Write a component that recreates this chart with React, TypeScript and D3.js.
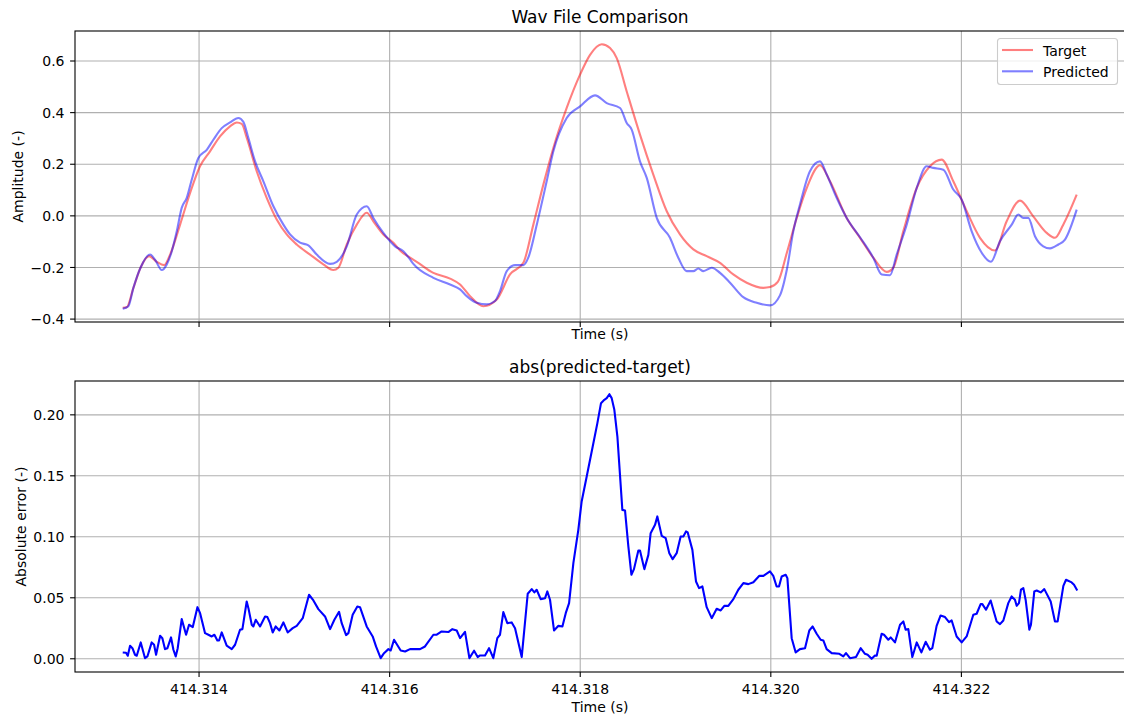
import React from "react";
import * as d3 from "d3";

// Time axis values are stored as microseconds after this origin (seconds).
const TIME_ORIGIN_S = 414.313;

// [time (µs after origin), amplitude]
const targetSamples: [number, number][] = [
  [199, -0.356], [241, -0.354], [311, -0.279], [388, -0.199], [475, -0.156], [556, -0.178],
  [633, -0.191], [696, -0.15], [801, -0.034], [906, 0.089], [1010, 0.192], [1115, 0.25],
  [1220, 0.308], [1325, 0.347], [1396, 0.362], [1448, 0.356], [1501, 0.302], [1605, 0.173],
  [1710, 0.07], [1815, -0.014], [1920, -0.072], [2025, -0.111], [2165, -0.15], [2304, -0.188],
  [2409, -0.21], [2462, -0.201], [2550, -0.111], [2655, -0.034], [2760, 0.012], [2829, -0.021],
  [2934, -0.072], [3039, -0.104], [3109, -0.134], [3214, -0.162], [3284, -0.178], [3459, -0.221],
  [3634, -0.243], [3739, -0.266], [3844, -0.311], [3983, -0.35], [4124, -0.324], [4263, -0.227],
  [4403, -0.182], [4508, -0.034], [4613, 0.121], [4718, 0.263], [4858, 0.418], [4998, 0.547],
  [5103, 0.624], [5226, 0.665], [5313, 0.65], [5383, 0.611], [5488, 0.482], [5627, 0.315],
  [5767, 0.16], [5908, 0.018], [6047, -0.072], [6187, -0.13], [6327, -0.156], [6467, -0.182],
  [6606, -0.227], [6747, -0.259], [6921, -0.279], [6992, -0.276], [7075, -0.255], [7167, -0.145],
  [7272, -0.008], [7377, 0.108], [7516, 0.196], [7621, 0.134], [7796, -0.008], [7936, -0.085],
  [8075, -0.162], [8216, -0.217], [8285, -0.201], [8390, -0.06], [8531, 0.108], [8670, 0.192],
  [8793, 0.218], [8915, 0.134], [9056, 0.018], [9195, -0.085], [9352, -0.134], [9475, -0.021],
  [9615, 0.059], [9754, -0.002], [9895, -0.066], [9982, -0.085], [10069, -0.034], [10210, 0.082],
];

const predictedSamples: [number, number][] = [
  [199, -0.36], [258, -0.35], [311, -0.279], [388, -0.199], [486, -0.15], [538, -0.17],
  [609, -0.21], [661, -0.188], [714, -0.137], [766, -0.06], [818, 0.031], [871, 0.07],
  [923, 0.14], [993, 0.224], [1081, 0.256], [1150, 0.295], [1238, 0.34], [1325, 0.362],
  [1412, 0.379], [1465, 0.364], [1517, 0.302], [1588, 0.211], [1675, 0.134], [1780, 0.037],
  [1885, -0.034], [1955, -0.072], [2060, -0.104], [2147, -0.114], [2235, -0.15], [2375, -0.186],
  [2445, -0.178], [2550, -0.118], [2655, 0.005], [2760, 0.037], [2829, -0.008], [2934, -0.066],
  [3057, -0.118], [3144, -0.137], [3214, -0.169], [3249, -0.186], [3459, -0.24], [3634, -0.266],
  [3739, -0.285], [3809, -0.311], [3914, -0.337], [4019, -0.343], [4106, -0.33], [4158, -0.292],
  [4229, -0.214], [4316, -0.191], [4403, -0.191], [4455, -0.162], [4544, -0.034], [4648, 0.134],
  [4718, 0.25], [4858, 0.379], [4998, 0.424], [5155, 0.467], [5278, 0.437], [5418, 0.418],
  [5488, 0.36], [5540, 0.334], [5627, 0.211], [5698, 0.147], [5803, -0.008], [5942, -0.085],
  [6029, -0.162], [6117, -0.214], [6187, -0.214], [6239, -0.204], [6292, -0.214], [6380, -0.201],
  [6467, -0.221], [6572, -0.259], [6711, -0.315], [6852, -0.337], [6992, -0.347], [7096, -0.308],
  [7170, -0.205], [7236, -0.06], [7306, 0.044], [7411, 0.173], [7516, 0.211], [7587, 0.16],
  [7691, 0.07], [7796, -0.008], [7936, -0.083], [8075, -0.162], [8164, -0.227], [8251, -0.23],
  [8321, -0.15], [8426, -0.034], [8531, 0.108], [8636, 0.192], [8705, 0.186], [8810, 0.179],
  [8915, 0.102], [9003, 0.063], [9108, -0.06], [9213, -0.143], [9310, -0.178], [9405, -0.098],
  [9528, -0.034], [9597, 0.005], [9649, -0.008], [9702, -0.008], [9772, -0.079], [9859, -0.118],
  [9930, -0.126], [10017, -0.111], [10087, -0.092], [10210, 0.024],
];

// [time (µs after origin), |predicted - target|]
const errorSamples: [number, number][] = [
  [199, 0.0052], [234, 0.005], [252, 0.0025], [276, 0.0107], [301, 0.0087], [328, 0.0033],
  [346, 0.0025], [388, 0.0134], [433, 0.0005], [458, 0.0019], [503, 0.0134], [528, 0.0115],
  [549, 0.0033], [591, 0.0189], [615, 0.0169], [643, 0.0079], [668, 0.0087], [706, 0.0175],
  [731, 0.0074], [755, 0.0019], [776, 0.0087], [818, 0.0325], [864, 0.0197], [895, 0.0279],
  [934, 0.026], [983, 0.0423], [1011, 0.0374], [1063, 0.021], [1098, 0.0197], [1133, 0.0183],
  [1161, 0.0197], [1192, 0.015], [1210, 0.015], [1238, 0.0216], [1290, 0.0107], [1343, 0.0079],
  [1378, 0.0115], [1430, 0.0238], [1455, 0.0243], [1500, 0.047], [1518, 0.0415], [1553, 0.0279],
  [1570, 0.0265], [1595, 0.032], [1640, 0.0265], [1693, 0.0347], [1717, 0.0342], [1745, 0.0292],
  [1773, 0.0216], [1804, 0.0265], [1843, 0.0232], [1885, 0.0298], [1930, 0.0216], [1983, 0.0251],
  [2025, 0.027], [2088, 0.0333], [2154, 0.0525], [2200, 0.0478], [2252, 0.0407], [2322, 0.0347],
  [2375, 0.0243], [2420, 0.032], [2469, 0.0385], [2497, 0.0292], [2543, 0.0194], [2567, 0.021],
  [2612, 0.0361], [2661, 0.0429], [2689, 0.0423], [2759, 0.0265], [2822, 0.0183], [2857, 0.0101],
  [2906, 0.0005], [2941, 0.0046], [2987, 0.0079], [3011, 0.0068], [3046, 0.0156], [3116, 0.0068],
  [3162, 0.006], [3214, 0.0079], [3319, 0.0079], [3371, 0.0101], [3459, 0.0197], [3494, 0.0197],
  [3546, 0.0224], [3616, 0.0219], [3658, 0.0243], [3704, 0.0232], [3739, 0.0169], [3791, 0.0221],
  [3837, 0.0005], [3886, 0.0066], [3924, 0.0014], [3949, 0.0027], [4001, 0.0027], [4043, 0.0087],
  [4088, 0.0005], [4130, 0.0169], [4158, 0.0197], [4193, 0.0383], [4235, 0.0292], [4281, 0.0298],
  [4316, 0.0251], [4386, 0.0014], [4449, 0.0533], [4491, 0.0571], [4519, 0.0544], [4543, 0.0566],
  [4585, 0.0489], [4631, 0.0497], [4655, 0.0552], [4683, 0.0484], [4725, 0.0232], [4771, 0.027],
  [4813, 0.0265], [4848, 0.0374], [4883, 0.0456], [4928, 0.0784], [4980, 0.1057], [5015, 0.129],
  [5068, 0.1494], [5131, 0.174], [5180, 0.1932], [5218, 0.2096], [5253, 0.2123], [5278, 0.2137],
  [5306, 0.2169], [5330, 0.2137], [5358, 0.2041], [5390, 0.1822], [5442, 0.1221], [5470, 0.1216],
  [5505, 0.0921], [5537, 0.0689], [5564, 0.0735], [5610, 0.0888], [5627, 0.0888], [5673, 0.0735],
  [5715, 0.0852], [5739, 0.103], [5785, 0.1098], [5809, 0.1167], [5855, 0.1008], [5897, 0.0989],
  [5935, 0.0866], [5970, 0.0817], [6012, 0.0866], [6054, 0.1003], [6082, 0.1003], [6110, 0.1044],
  [6128, 0.1036], [6177, 0.0893], [6215, 0.0634], [6247, 0.0579], [6282, 0.0593], [6327, 0.0423],
  [6380, 0.0333], [6432, 0.041], [6474, 0.0396], [6512, 0.0434], [6554, 0.0434], [6607, 0.0489],
  [6659, 0.0566], [6712, 0.062], [6764, 0.0612], [6817, 0.0628], [6880, 0.068], [6922, 0.068],
  [6991, 0.0716], [7026, 0.068], [7061, 0.0593], [7086, 0.0593], [7114, 0.0675], [7156, 0.0689],
  [7174, 0.0661], [7219, 0.0169], [7261, 0.0052], [7306, 0.0079], [7359, 0.0087], [7404, 0.0232],
  [7439, 0.0265], [7481, 0.0205], [7523, 0.0156], [7551, 0.015], [7586, 0.0079], [7639, 0.0046],
  [7719, 0.0041], [7761, 0.0019], [7789, 0.0046], [7831, 0.0005], [7894, 0.0014], [7943, 0.0087],
  [7988, 0.0041], [8016, 0.0033], [8058, 0.0], [8093, 0.0027], [8111, 0.0025], [8163, 0.0205],
  [8188, 0.0197], [8233, 0.0156], [8258, 0.0175], [8303, 0.0134], [8356, 0.0279], [8391, 0.0306],
  [8415, 0.0238], [8443, 0.0243], [8485, 0.0014], [8531, 0.0134], [8580, 0.0052], [8625, 0.0139],
  [8670, 0.0074], [8695, 0.0087], [8740, 0.027], [8782, 0.0355], [8828, 0.0342], [8870, 0.0301],
  [8898, 0.0314], [8950, 0.0183], [9003, 0.0134], [9055, 0.0183], [9125, 0.0361], [9160, 0.0369],
  [9202, 0.0448], [9220, 0.0448], [9258, 0.0402], [9307, 0.0478], [9370, 0.0306], [9405, 0.0284],
  [9440, 0.0314], [9492, 0.0456], [9527, 0.0511], [9562, 0.0484], [9580, 0.0434], [9604, 0.0456],
  [9625, 0.0566], [9650, 0.0579], [9674, 0.0484], [9713, 0.0238], [9730, 0.0279], [9765, 0.0552],
  [9790, 0.056], [9832, 0.0544], [9870, 0.0571], [9937, 0.047], [9982, 0.0306], [10010, 0.0306],
  [10070, 0.0598], [10098, 0.0648], [10157, 0.0626], [10182, 0.0607], [10216, 0.056],
];

const timeTicksUs = [1000, 3000, 5000, 7000, 9000];
const amplitudeTicks = [-0.4, -0.2, 0, 0.2, 0.4, 0.6];
const errorTicks = [0, 0.05, 0.1, 0.15, 0.2];

const FONT = "'DejaVu Sans', Verdana, sans-serif";
const GRID = "#b0b0b0";
const LEFT = 75;
const RIGHT = 1125;

function padded(ext: [number, number]): [number, number] {
  const m = (ext[1] - ext[0]) * 0.05;
  return [ext[0] - m, ext[1] + m];
}

type Series = { data: [number, number][]; color: string; opacity: number };

function Panel(props: {
  x: d3.ScaleLinear<number, number>;
  top: number;
  bottom: number;
  series: Series[];
  curve: d3.CurveFactory;
  yTicks: number[];
  yFormat: (v: number) => string;
  title: string;
  yLabel: string;
  yLabelX: number;
  xLabelY: number;
  showXTickLabels: boolean;
}) {
  const { x, top, bottom, series, yTicks, yFormat } = props;
  const allY = series.flatMap((s) => s.data.map((d) => d[1]));
  const y = d3
    .scaleLinear()
    .domain(padded(d3.extent(allY) as [number, number]))
    .range([bottom, top]);
  const line = d3
    .line<[number, number]>()
    .x((d) => x(d[0]))
    .y((d) => y(d[1]))
    .curve(props.curve);
  const midY = (top + bottom) / 2;
  const clipId = `clip-${Math.round(top)}`;
  return (
    <g>
      <defs>
        <clipPath id={clipId}>
          <rect x={LEFT} y={top} width={RIGHT - LEFT} height={bottom - top} />
        </clipPath>
      </defs>
      {/* grid */}
      {timeTicksUs.map((t) => (
        <line key={"gx" + t} x1={x(t)} x2={x(t)} y1={top} y2={bottom} stroke={GRID} strokeWidth={1.1} />
      ))}
      {yTicks.map((v) => (
        <line key={"gy" + v} x1={LEFT} x2={RIGHT} y1={y(v)} y2={y(v)} stroke={GRID} strokeWidth={1.1} />
      ))}
      {/* data */}
      <g clipPath={`url(#${clipId})`}>
        {series.map((s, i) => (
          <path
            key={i}
            d={line(s.data) ?? ""}
            fill="none"
            stroke={s.color}
            strokeOpacity={s.opacity}
            strokeWidth={2.1}
            strokeLinejoin="round"
            strokeLinecap="butt"
          />
        ))}
      </g>
      {/* spines */}
      <rect x={LEFT} y={top} width={RIGHT - LEFT} height={bottom - top} fill="none" stroke="#000" strokeWidth={1.1} />
      {/* x ticks */}
      {timeTicksUs.map((t) => (
        <g key={"tx" + t}>
          <line x1={x(t)} x2={x(t)} y1={bottom} y2={bottom + 4.9} stroke="#000" strokeWidth={1.1} />
          {props.showXTickLabels && (
            <text x={x(t)} y={bottom + 21.5} textAnchor="middle" fontSize={14} fontFamily={FONT} fill="#000">
              {(TIME_ORIGIN_S + t / 1e6).toFixed(3)}
            </text>
          )}
        </g>
      ))}
      {/* y ticks */}
      {yTicks.map((v) => (
        <g key={"ty" + v}>
          <line x1={LEFT - 4.9} x2={LEFT} y1={y(v)} y2={y(v)} stroke="#000" strokeWidth={1.1} />
          <text x={LEFT - 10.5} y={y(v) + 5.1} textAnchor="end" fontSize={14} fontFamily={FONT} fill="#000">
            {yFormat(v)}
          </text>
        </g>
      ))}
      {/* labels */}
      <text x={(LEFT + RIGHT) / 2} y={top - 8.5} textAnchor="middle" fontSize={17} fontFamily={FONT} fill="#000">
        {props.title}
      </text>
      <text x={(LEFT + RIGHT) / 2} y={props.xLabelY} textAnchor="middle" fontSize={14} fontFamily={FONT} fill="#000">
        Time (s)
      </text>
      <text
        transform={`translate(${props.yLabelX} ${midY}) rotate(-90)`}
        textAnchor="middle"
        fontSize={14}
        fontFamily={FONT}
        fill="#000"
      >
        {props.yLabel}
      </text>
    </g>
  );
}

export default function App() {
  const allTimes = [...targetSamples, ...predictedSamples, ...errorSamples].map((d) => d[0]);
  const x = d3
    .scaleLinear()
    .domain(padded(d3.extent(allTimes) as [number, number]))
    .range([LEFT, RIGHT]);
  const fmt1 = d3.format(".1f");
  const fmt2 = d3.format(".2f");

  return (
    <svg
      width={1124}
      height={717}
      viewBox="0 0 1124 717"
      style={{ position: "absolute", left: 0, top: 0, background: "#fff" }}
    >
      <rect width={1124} height={717} fill="#fff" />
      <Panel
        x={x}
        top={31}
        bottom={322}
        series={[
          { data: targetSamples, color: "#ff0000", opacity: 0.5 },
          { data: predictedSamples, color: "#0000ff", opacity: 0.5 },
        ]}
        curve={d3.curveMonotoneX}
        yTicks={amplitudeTicks}
        yFormat={fmt1}
        title="Wav File Comparison"
        yLabel="Amplitude (-)"
        yLabelX={22.5}
        xLabelY={338.8}
        showXTickLabels={false}
      />
      <Panel
        x={x}
        top={381}
        bottom={672}
        series={[{ data: errorSamples, color: "#0000ff", opacity: 1 }]}
        curve={d3.curveLinear}
        yTicks={errorTicks}
        yFormat={fmt2}
        title="abs(predicted-target)"
        yLabel="Absolute error (-)"
        yLabelX={26}
        xLabelY={712}
        showXTickLabels={true}
      />
      {/* legend */}
      <g fontFamily={FONT} fontSize={14}>
        <rect x={997.5} y={38.5} width={120} height={46} rx={3} fill="#fff" fillOpacity={0.8} stroke="#cccccc" strokeWidth={1.1} />
        <line x1={1002} x2={1033} y1={50} y2={50} stroke="#ff0000" strokeOpacity={0.5} strokeWidth={2.1} />
        <text x={1043} y={55.5} fill="#000">Target</text>
        <line x1={1002} x2={1033} y1={71.3} y2={71.3} stroke="#0000ff" strokeOpacity={0.5} strokeWidth={2.1} />
        <text x={1043} y={76.5} fill="#000">Predicted</text>
      </g>
    </svg>
  );
}
